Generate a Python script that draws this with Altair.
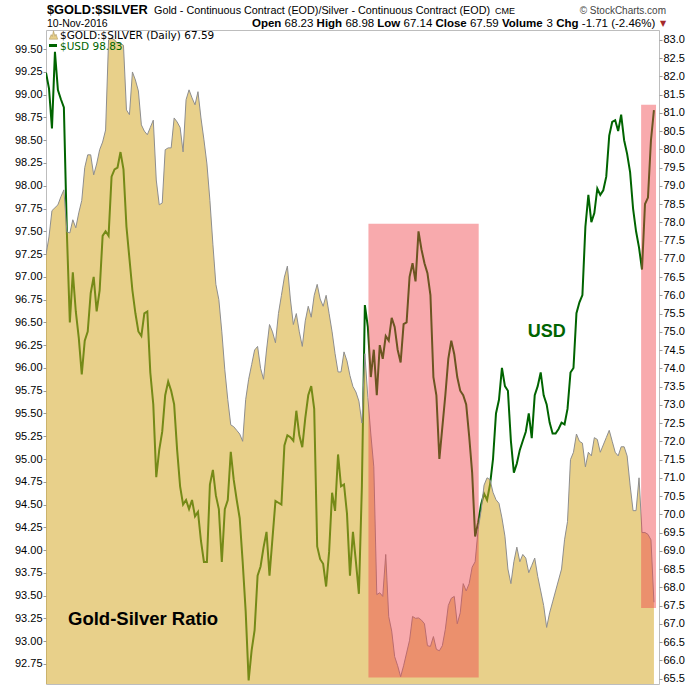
import altair as alt
import pandas as pd

# ---------------- data ----------------
USD = [99.24, 99.07, 98.63, 99.47, 99.05, 98.95, 98.86, 97.49, 96.5, 97.05,
       96.62, 96.33, 95.93, 96.3, 96.4, 96.82, 97.0, 96.62, 96.85, 97.45,
       97.5, 97.45, 98.1, 98.18, 98.2, 98.37, 98.18, 97.55, 97.2, 96.85,
       96.6, 96.4, 96.35, 96.6, 96.62, 95.95, 95.6, 94.8, 95.1, 95.3,
       95.7, 95.85, 95.75, 95.6, 95.1, 94.7, 94.5, 94.55, 94.45, 94.55,
       94.37, 94.42, 94.1, 93.87, 93.87, 94.72, 94.88, 94.6, 94.45, 93.87,
       94.45, 94.55, 95.08, 94.77, 94.55, 94.35, 93.87, 93.33, 92.57, 92.9,
       93.12, 93.72, 93.82, 94.03, 94.2, 93.72, 94.13, 94.54, 94.52, 94.5,
       95.15, 95.26, 95.24, 95.2, 95.53, 95.26, 95.13, 95.45, 95.7, 95.8,
       95.55, 94.04, 93.9, 93.85, 93.6, 93.98, 94.63, 94.43, 95.05, 94.7,
       94.72, 94.4, 93.72, 94.2, 93.87, 93.52, 94.7, 96.69, 96.45, 95.9,
       96.2, 95.7, 96.25, 96.1, 96.35, 96.3, 96.55, 96.45, 96.2, 96.06,
       96.48, 96.5, 97.0, 97.15, 96.95, 97.5, 97.3, 97.15, 97.04, 96.8,
       95.9, 95.7, 95.0, 95.35, 95.7, 96.1, 96.3, 96.15, 95.9, 95.75,
       95.7, 95.6, 95.25, 94.85, 94.15, 94.3, 94.5, 94.62, 94.55, 94.72,
       95.0, 95.5, 95.65, 96.0, 95.8, 95.75, 95.2, 94.85, 94.95, 95.1,
       95.2, 95.3, 95.5, 95.23, 95.7, 95.8, 95.95, 95.7, 95.6, 95.4,
       95.28, 95.28, 95.33, 95.4, 95.38, 95.55, 95.95, 96.0, 96.6, 96.72,
       96.8, 97.55, 97.9, 97.6, 97.7, 97.97, 97.9, 97.95, 98.1, 98.55,
       98.7, 98.72, 98.6, 98.78, 98.5, 98.35, 98.15, 97.75, 97.5, 97.32,
       97.08, 97.8, 97.87, 98.5, 98.83]

RATIO = [77.11, 77.6, 78.32, 78.4, 78.48, 78.7, 78.89, 77.74, 77.71, 78.07,
         77.85, 78.26, 78.6, 79.5, 79.85, 79.85, 79.3, 79.6, 79.99, 80.2,
         80.53, 83.0, 83.05, 83.0, 82.9, 82.9, 82.85, 81.08, 80.95, 82.12,
         81.9, 81.6, 80.67, 80.5, 80.4, 80.6, 80.8, 79.16, 78.48, 78.53,
         79.99, 80.04, 80.04, 80.86, 80.75, 80.6, 79.93, 81.36, 81.63, 81.41,
         81.22, 81.58, 80.86, 80.26, 79.6, 78.6, 77.4, 76.3, 75.88, 75.0,
         73.96, 73.14, 72.45, 72.4, 72.3, 72.2, 72.0, 73.14, 73.7, 74.1,
         74.5, 74.6, 74.0, 73.7, 74.5, 75.2, 75.0, 74.7, 75.5, 76.0,
         76.5, 76.8, 75.9, 75.2, 75.5, 75.0, 74.6, 75.3, 75.7, 75.4,
         76.0, 76.3, 75.9, 75.7, 76.0, 75.5, 75.0, 74.4, 73.9, 73.9,
         74.45, 74.2, 73.8, 73.5, 73.35, 73.1, 72.5, 74.4, 73.2, 72.2,
         71.3, 67.8, 67.85, 67.75, 68.9, 67.2, 66.8, 66.1, 65.85, 65.55,
         65.85, 66.2, 66.55, 67.2, 67.15, 67.16, 67.1, 67.0, 66.4, 66.38,
         66.65, 66.3, 66.26, 66.4, 66.85, 67.5, 67.7, 67.75, 67.0, 67.3,
         68.1, 67.9, 68.1, 68.55, 68.7, 69.58, 70.1, 70.8, 71.0, 70.95,
         70.6, 70.4, 70.3, 69.9, 69.4, 68.5, 68.1, 68.7, 69.1, 68.7,
         68.9, 68.8, 68.4, 68.6, 68.8, 68.3, 67.9, 67.5, 66.9, 67.3,
         67.6, 67.9, 68.2, 68.5, 69.3, 69.8, 71.5, 71.7, 72.2, 72.0,
         71.95, 71.3, 71.7, 71.6, 72.1, 72.05, 71.7, 71.9, 72.1, 72.3,
         72.0, 71.7, 71.6, 71.85, 71.85, 71.6, 70.8, 70.1, 70.1, 71.0,
         69.5, 69.5, 69.45, 69.3, 67.59]

DAY = list(range(len(USD)))  # trading-day index, 0 = 29-Jan-2016

MONTH_DAY = [1, 22, 45, 66, 88, 110, 131, 154, 176, 197]
MONTH_LABEL = ["Feb", "Mar", "Apr", "May", "Jun", "Jul", "Aug", "Sep", "Oct", "Nov"]

USD_TICKS = [92.75, 93.0, 93.25, 93.5, 93.75, 94.0, 94.25, 94.5, 94.75, 95.0,
             95.25, 95.5, 95.75, 96.0, 96.25, 96.5, 96.75, 97.0, 97.25, 97.5,
             97.75, 98.0, 98.25, 98.5, 98.75, 99.0, 99.25, 99.5]
RATIO_TICKS = [65.5, 66.0, 66.5, 67.0, 67.5, 68.0, 68.5, 69.0, 69.5, 70.0,
               70.5, 71.0, 71.5, 72.0, 72.5, 73.0, 73.5, 74.0, 74.5, 75.0,
               75.5, 76.0, 76.5, 77.0, 77.5, 78.0, 78.5, 79.0, 79.5, 80.0,
               80.5, 81.0, 81.5, 82.0, 82.5, 83.0]

HILITE_FROM = [108.2, 199.7]
HILITE_TO = [145.2, 204.7]
HILITE_LOW = [65.53, 67.43]
HILITE_HIGH = [77.96, 81.22]

X_DOMAIN = [0, 205.7]
USD_DOMAIN = [92.53, 99.71]
RATIO_DOMAIN = [65.35, 83.27]

# ---------------- chart ----------------
df = pd.DataFrame({"day": DAY, "usd": USD, "ratio": RATIO})
hl = pd.DataFrame({"x0": HILITE_FROM, "x1": HILITE_TO, "lo": HILITE_LOW, "hi": HILITE_HIGH})
one = pd.DataFrame({"k": [0]})

FONT = "Liberation Sans"
GREEN = "#006400"


def xs():
    return alt.Scale(domain=X_DOMAIN, nice=False, zero=False)


def us():
    return alt.Scale(domain=USD_DOMAIN, nice=False, zero=False)


def rs():
    return alt.Scale(domain=RATIO_DOMAIN, nice=False, zero=False)


label_expr = ("[" + ",".join("'%s'" % m for m in MONTH_LABEL) + "][indexof(["
              + ",".join(str(d) for d in MONTH_DAY) + "], datum.value)]")

x_axis = alt.Axis(values=MONTH_DAY, labelExpr=label_expr, labelAlign="left",
                  labelFont=FONT, labelFontSize=10.5, labelColor="#000",
                  tickSize=3, tickColor="#999999", domain=False, grid=False,
                  labelPadding=1, labelOffset=1, title=None)
left_axis = alt.Axis(orient="left", values=USD_TICKS, format=".2f",
                     labelFont=FONT, labelFontSize=11, labelColor="#000",
                     tickSize=3, tickColor="#999999", domain=False, grid=False,
                     labelPadding=1, title=None)
right_axis = alt.Axis(orient="right", values=RATIO_TICKS, format=".1f",
                      labelFont=FONT, labelFontSize=11, labelColor="#000",
                      tickSize=3, tickColor="#999999", domain=False, grid=False,
                      labelPadding=1, title=None)

usd_line = alt.Chart(df).mark_line(color=GREEN, strokeWidth=2, clip=True).encode(
    x=alt.X("day:Q", scale=xs(), axis=x_axis),
    y=alt.Y("usd:Q", scale=us(), axis=left_axis),
)

area = alt.Chart(df).mark_area(color="#D5A92A", opacity=0.55, clip=True).encode(
    x=alt.X("day:Q", scale=xs(), axis=None),
    y=alt.Y("ratio:Q", scale=rs(), axis=right_axis),
    y2=alt.datum(RATIO_DOMAIN[0]),
)
outline = alt.Chart(df).mark_line(color="#8E8E8E", strokeWidth=1, clip=True).encode(
    x=alt.X("day:Q", scale=xs(), axis=None),
    y=alt.Y("ratio:Q", scale=rs(), axis=None),
)
rects = alt.Chart(hl).mark_rect(color="#F0424A", opacity=0.45, clip=True).encode(
    x=alt.X("x0:Q", scale=xs(), axis=None),
    x2="x1:Q",
    y=alt.Y("lo:Q", scale=rs(), axis=None),
    y2="hi:Q",
)


def txt(s, x, y, size, font=FONT, weight="normal", color="#000000", align="left"):
    return alt.Chart(one).mark_text(
        text=s, x=x, y=y, fontSize=size, font=font, fontWeight=weight,
        color=color, align=align, baseline="alphabetic")


texts = [
    txt("$GOLD:$SILVER", 1, -16.5, 12.8, FONT, "bold"),
    txt("Gold - Continuous Contract (EOD)/Silver - Continuous Contract (EOD)", 108, -16.5, 10.8, FONT),
    txt("CME", 449, -16.5, 9, FONT),
    txt("\u00a9 StockCharts.com", 620, -16.5, 10, FONT, color="#444444", align="right"),
    txt("10-Nov-2016", 1, -3.5, 10.5, FONT),
]
line2 = [("Open", 206, "bold"), ("68.23", 238.6, "normal"), ("High", 270.6, "bold"),
         ("68.98", 299.4, "normal"), ("Low", 331.3, "bold"), ("67.14", 357.5, "normal"),
         ("Close", 389.4, "bold"), ("67.59", 423.9, "normal"), ("Volume", 455.9, "bold"),
         ("3", 500.6, "normal"), ("Chg", 510.2, "bold"), ("-1.71 (-2.46%)", 535.8, "normal")]
for s, x, w in line2:
    texts.append(txt(s, x, -3.5, 11.5, FONT, w))
texts.append(txt("\u25bc", 614, -4.5, 8, "DejaVu Sans", color="#A52A2A"))

# in-plot legend
icon = alt.Chart(one).mark_point(
    shape="M-1,1L-0.55,-0.1L-0.3,0.35L0,-1L0.35,0.3L0.6,-0.2L1,1Z",
    filled=True, fill="#E8D08A", stroke="#A08A50", strokeWidth=0.5, size=70, opacity=1,
).encode(x=alt.value(7.5), y=alt.value(5))
dash = alt.Chart(one).mark_rule(color=GREEN, strokeWidth=3).encode(
    x=alt.value(3), x2=alt.value(11), y=alt.value(15.5))
texts += [
    txt("$GOLD:$SILVER (Daily) 67.59", 14, 9, 10.5, "DejaVu Sans"),
    txt("$USD 98.83", 14, 19.5, 10.5, "DejaVu Sans", color=GREEN),
    txt("Gold-Silver Ratio", 22, 595, 18.5, FONT, "bold"),
    txt("USD", 481.7, 306.7, 18, FONT, "bold", color=GREEN),
]

chart = alt.layer(usd_line, area, outline, rects, icon, dash, *texts).resolve_scale(
    y="independent"
).properties(
    width=613, height=654,
    autosize=alt.AutoSizeParams(type="none"),
    padding={"left": 46, "top": 30, "right": 41, "bottom": 16},
    background="white",
).configure_view(stroke="#BDBDBD", strokeWidth=1)

chart.save("out.html", embed_options={"renderer": "svg", "actions": False})
